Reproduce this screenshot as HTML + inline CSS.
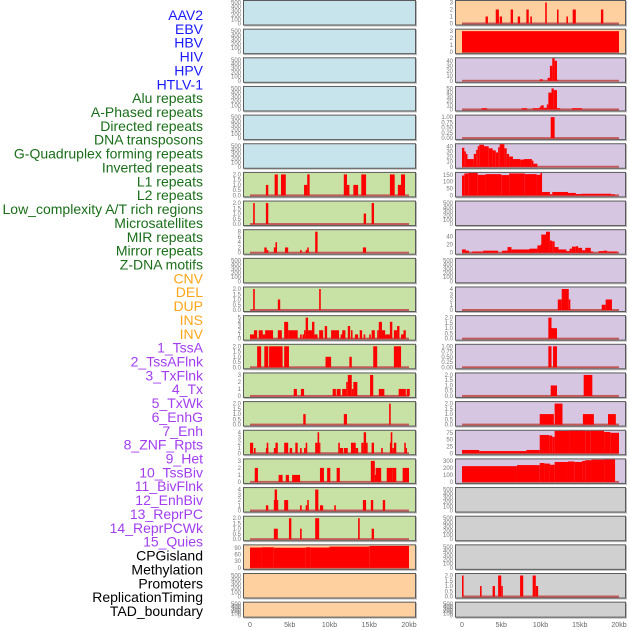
<!DOCTYPE html>
<html><head><meta charset="utf-8"><style>
html,body{margin:0;padding:0;background:#fff;}
svg{display:block;font-family:"Liberation Sans",sans-serif;}
</style></head><body>
<svg id="chart" width="630" height="630" viewBox="0 0 630 630" xmlns="http://www.w3.org/2000/svg"></svg>
<script>
const trackLabels=["AAV2","EBV","HBV","HIV","HPV","HTLV-1","Alu repeats","A-Phased repeats","Directed repeats","DNA transposons","G-Quadruplex forming repeats","Inverted repeats","L1 repeats","L2 repeats","Low_complexity A/T rich regions","Microsatellites","MIR repeats","Mirror repeats","Z-DNA motifs","CNV","DEL","DUP","INS","INV","1_TssA","2_TssAFlnk","3_TxFlnk","4_Tx","5_TxWk","6_EnhG","7_Enh","8_ZNF_Rpts","9_Het","10_TssBiv","11_BivFlnk","12_EnhBiv","13_ReprPC","14_ReprPCWk","15_Quies","CPGisland","Methylation","Promoters","ReplicationTiming","TAD_boundary"];
const labelGroups=[6,13,5,15,5];
const groupColors=["#1a1aff","#1a6e1a","#ffa51a","#a23ef0","#000000"];
const kbTicks=[0,5,10,15,20];
const kbTickLabels=["0","5kb","10kb","15kb","20kb"];
const E=[0,100,200,300,400,500];
const leftBg=["b","b","b","b","b","b","g","g","g","g","g","g","g","g","g","g","g","g","g","o","o","o"];
const rightBg=["o","o","p","p","p","p","p","p","p","p","p","p","p","p","p","p","p","y","y","y","y","y"];
const leftTicks=[E,E,E,E,E,E,[0,0.5,1,1.5,2],[0,0.5,1,1.5,2],[0,2,4,6,8],E,[0,0.5,1,1.5,2],[0,1,2,3,4,5],[0,0.5,1,1.5,2],[0,1,2,3],[0,0.5,1,1.5,2],[0,1,2,3,4],[0,1,2,3],[0,1,2,3,4],[0,0.5,1,1.5,2],[0,30,60,90],E,E];
const leftMax=[500,500,500,500,500,500,2,2,8,500,2,5,2,3,2,4,3,4,2,95,500,500];
const rightTicks=[[0,1,2,3],[0,1,2,3],[0,10,20,30,40],[0,10,20,30,40,50],[0,0.25,0.5,0.75,1],[0,10,20,30,40],[0,50,100,150],E,[0,20,40],E,[0,1,2,3,4],[0,0.5,1,1.5,2],[0,0.25,0.5,0.75,1],[0,0.5,1,1.5,2],[0,0.5,1,1.5,2],[0,25,50,75],[0,100,200,300],E,E,E,[0,0.5,1,1.5,2],E];
const rightMax=[3,3,42,50,1,41,153,500,52,500,4,2,1,2,2,77,300,500,500,500,2,500];
const tickDecimals={"0.25":2};
const leftBars=[[],[],[],[],[],[],
[[2.0,2.3,1],[3.1,3.5,2],[3.9,4.5,2],[6.8,7.2,1],[7.2,7.5,2],[11.8,12.2,2],[12.2,12.5,1],[13.0,13.6,1],[14.0,14.6,2],[17.6,18.2,2],[18.6,19.0,1],[19.0,19.5,2]],
[[0.4,0.6,2],[2.0,2.3,2],[14.3,14.6,1],[15.3,15.6,2]],
[[1.8,2.1,2],[2.1,2.3,1],[3.0,3.2,2],[3.2,3.4,4],[4.4,4.8,2],[6.3,6.5,1],[7.0,7.2,1],[7.2,7.4,2],[8.2,8.5,8],[14.2,14.6,2]],
[],
[[0.4,0.6,2],[3.5,3.8,1],[8.7,8.9,2]],
[[0,0.5,1],[0.5,0.9,2],[1.1,1.6,2],[1.6,1.9,1],[1.9,2.9,2],[3.5,4.0,2],[4.3,4.8,4],[4.8,6.0,2],[6.3,6.5,1],[6.6,6.8,1],[6.8,7.0,2],[7.0,7.3,5],[7.3,7.8,2],[7.8,8.1,4],[8.1,8.5,1],[8.7,9.2,2],[9.4,9.7,3],[10.2,11.2,2],[11.4,11.9,1],[11.6,12.0,2],[12.3,12.6,3],[12.7,12.9,2],[13.2,13.6,1],[13.8,14.1,2],[14.3,14.5,1],[15.0,15.2,1],[15.3,15.7,2],[16.0,16.2,2],[16.2,16.6,4],[16.6,17.0,2],[17.0,17.6,1],[17.6,17.9,4],[18.1,18.5,2],[18.5,18.8,3],[19.0,19.4,1],[19.3,19.6,2]],
[[0.9,1.4,2],[1.8,2.3,2],[2.4,4.1,2],[4.3,4.9,2],[9.5,10.2,1],[12.5,12.8,1],[15.5,16.0,2],[18.1,19.0,2]],
[[5.5,5.9,1],[6.4,6.8,1],[10.4,10.8,1],[10.9,11.4,1],[11.6,12.1,1],[12.1,12.3,2],[12.3,12.8,3],[12.8,13.0,1],[13.0,13.5,2],[15.1,15.5,3],[16.2,16.9,1],[18.7,19.6,1],[19.7,20.1,1]],
[[6.7,7.0,1],[11.8,12.2,1],[17.5,17.7,2]],
[[0,0.4,2],[0.5,0.7,1],[2.0,2.3,1],[2.1,2.3,2],[3.0,3.2,1],[3.2,3.5,2],[4.3,4.8,2],[5.0,5.3,1],[5.7,6.0,2],[6.3,6.5,1],[6.8,7.0,1],[7.0,7.2,2],[8.2,8.5,2],[8.5,8.7,4],[8.7,8.8,2],[11.1,11.3,2],[11.3,11.7,1],[11.8,12.3,1],[12.7,13.3,2],[13.3,13.6,1],[14.0,14.3,2],[14.3,14.6,4],[14.6,14.8,2],[15.3,15.6,2],[16.5,16.7,1],[17.6,17.7,2],[17.7,17.9,4],[17.9,18.1,1],[18.1,18.4,2],[19.4,19.6,2],[19.6,19.7,1]],
[[0.6,1.0,2],[3.6,4.1,1],[4.5,4.9,1],[5.3,6.3,1],[8.8,9.3,2],[9.7,10.1,2],[10.9,11.3,2],[15.2,15.7,3],[15.7,15.8,1],[15.8,16.5,2],[17.2,17.9,2],[17.9,18.4,2],[19.2,20.0,2]],
[[2.0,2.3,1],[3.0,3.1,2],[3.1,3.4,4],[3.4,3.5,2],[4.3,4.8,2],[6.3,6.5,1],[7.0,7.2,1],[7.2,7.4,2],[8.2,8.6,4],[8.8,9.2,1],[10.6,10.8,1],[14.2,14.6,2],[15.2,15.5,2],[16.7,17.0,2]],
[[3.0,3.5,1],[4.9,5.2,2],[6.3,6.5,1],[8.2,8.7,2],[13.6,13.8,2],[15.3,15.6,1]],
[[0,1.5,92],[1.5,3.0,93],[3.0,7.0,91],[7.0,7.6,93],[7.6,10.0,92],[10.0,15.0,96],[15.0,20.0,99]],
[],[]];
const rightBars=[
[[3.0,3.3,1],[4.3,4.7,2],[4.8,5.1,1],[6.2,6.5,2],[7.1,7.4,1],[8.2,8.5,2],[8.7,8.9,1],[10.6,10.8,3],[12.1,12.3,2],[13.3,13.5,1],[14.1,14.5,2],[17.7,18.0,2]],
[[0,20,3]],
[[9.9,10.3,3],[10.9,11.2,6],[11.2,11.5,30],[11.5,11.8,46],[11.8,12.1,40],[12.1,12.2,2]],
[[2.5,3.2,3],[7.6,8.3,3],[9.0,9.9,3],[9.9,10.1,7],[10.1,10.4,10],[10.4,10.8,4],[10.8,11.0,12],[11.0,11.4,40],[11.4,11.7,50],[11.7,12.1,46],[12.1,12.5,3],[14.0,15.3,3]],
[[11.3,11.8,1]],
[[0,0.3,37],[0.3,0.5,30],[0.5,0.7,25],[0.7,1.5,15],[1.5,1.8,25],[1.8,2.0,33],[2.0,2.2,40],[2.2,2.8,43],[2.8,3.4,40],[3.4,3.9,36],[3.9,4.3,32],[4.3,4.6,28],[4.6,4.8,38],[4.8,5.4,46],[5.4,5.7,36],[5.7,6.0,25],[6.0,6.5,20],[6.5,7.4,15],[7.4,7.9,14],[7.9,8.9,15],[8.9,9.1,12],[9.1,9.6,6]],
[[0,0.3,145],[0.3,0.8,160],[0.8,2.0,168],[2.0,3.0,150],[3.0,5.0,155],[5.0,6.0,148],[6.0,8.0,160],[8.0,9.5,155],[9.5,10.0,150],[10.0,10.2,165],[10.2,11.2,25],[11.2,11.5,8],[11.5,13.5,25],[13.5,14.5,18],[14.5,15.2,10],[15.2,19.0,12],[19.0,19.5,8]],
[],
[[0,0.5,8],[0.5,0.9,5],[1.3,2.7,3],[2.7,4.6,5],[5.1,5.8,5],[5.8,6.3,14],[6.3,7.2,8],[7.2,8.6,8],[8.6,9.6,10],[9.6,10.0,18],[10.0,10.1,20],[10.1,10.7,45],[10.7,11.2,52],[11.2,11.5,30],[11.5,11.8,28],[11.8,12.3,14],[12.3,13.3,8],[13.3,13.7,4],[13.7,14.0,10],[14.0,14.5,15],[14.5,14.8,16],[14.8,15.3,12],[15.3,15.7,6],[15.7,16.4,12],[16.4,16.7,3],[17.4,18.0,4],[18.0,18.5,5],[18.5,19.8,3]],
[],
[[12.2,12.7,2],[12.7,13.6,4],[13.6,13.8,2],[17.8,18.3,1],[18.3,19.1,2]],
[[11.0,11.4,2],[11.4,12.1,1]],
[[11.0,11.4,1],[11.6,12.1,1]],
[[11.3,12.1,1],[15.5,16.6,2]],
[[9.9,11.7,1],[11.8,12.8,2],[15.4,16.8,1],[18.6,19.6,1]],
[[0,2.2,12],[2.2,8.2,8],[8.2,9.9,12],[9.9,11.1,67],[11.1,11.5,65],[11.5,11.8,60],[11.8,13.7,82],[13.7,15.7,88],[15.7,16.4,82],[16.4,18.1,83],[18.1,18.9,78],[18.9,20.0,75]],
[[0,7.0,225],[7.0,9.9,240],[9.9,10.5,270],[10.5,11.2,262],[11.2,11.8,245],[11.8,13.5,285],[13.5,14.3,292],[14.3,15.3,285],[15.3,15.7,300],[15.7,16.5,310],[16.5,18.1,318],[18.1,19.5,322]],
[],[],[],
[[0,0.2,2],[2.3,2.5,1],[3.9,4.2,1],[4.6,5.0,2],[5.0,5.2,1],[7.4,7.8,2],[9.0,9.4,2],[9.4,9.7,1]],
[]];

const NS="http://www.w3.org/2000/svg";
const svg=document.getElementById("chart");
const bgColor={b:"#c7e3eb",g:"#c8e1a5",o:"#fecf9f",p:"#d6c6e2",y:"#d0d0d0"};
function mk(tag,attrs,parent){const e=document.createElementNS(NS,tag);for(const k in attrs)e.setAttribute(k,attrs[k]);(parent||svg).appendChild(e);return e;}
function rowTop(i){return i*28.65;}
function rowH(i){return i===21?16:25.5;}
function fmt(v,ticks){const step=ticks[1]-ticks[0];if(step===0.25)return v.toFixed(2);if(step<1)return v.toFixed(1);return String(v);}

// labels
let li=0;
labelGroups.forEach((n,g)=>{for(let k=0;k<n;k++){const t=mk("text",{x:203,y:15+li*13.86,"text-anchor":"end","dominant-baseline":"central","font-size":"14",fill:groupColors[g]});


t.textContent=trackLabels[li];li++;}});

function drawPanel(col,i,bg,ticks,ymax,bars){
  const x0=col===0?243:455, x1=col===0?416:626;
  const kx0=col===0?250:462, kx1=col===0?409:619;
  const xs=kb=>kx0+(kx1-kx0)*kb/20;
  const top=rowTop(i), h=rowH(i);
  const yb=top+h-2, yt=top+2.5;
  const ys=v=>yb-(yb-yt)*v/ymax;
  const g=mk("g",{});
  
  
  mk("rect",{x:x0+1,y:top+1,width:x1-x0,height:h,fill:"#bbb"},g);
  const r=mk("rect",{x:x0+0.5,y:top+0.5,width:x1-x0-1,height:h-1,fill:bgColor[bg],stroke:"#5a5a5a","stroke-width":1},g);
  
  
  const cid="c"+col+"_"+i;
  const cp=mk("clipPath",{id:cid},g);mk("rect",{x:x0+1,y:top+1,width:x1-x0-2,height:h-2},cp);
  const bg2=mk("g",{"clip-path":"url(#"+cid+")"},g);
  if(bars.length){
    const bl=mk("rect",{x:xs(0),y:yb-1,width:xs(20)-xs(0),height:2,fill:"#c25a5a"},bg2);
    
    
  }
  bars.forEach(b=>{
    const rb=mk("rect",{x:xs(b[0]),y:ys(b[2]),width:Math.max(1.2,xs(b[1])-xs(b[0])),height:yb-ys(b[2]),fill:"#ff0000"},bg2);
    
    
  });
  ticks.forEach(t=>{
    const tt=mk("text",{x:x0-2,y:ys(t)+2,"text-anchor":"end","font-size":"6",fill:"#777"},g);
    
    
    tt.textContent=fmt(t,ticks);
  });
  if(i===21){
    kbTicks.forEach((k,j)=>{
      const t=mk("text",{x:xs(k),y:627,"text-anchor":"middle","font-size":"7",fill:"#666"});
      
      
      t.textContent=kbTickLabels[j];
    });
  }
}
for(let i=0;i<22;i++){
  drawPanel(0,i,leftBg[i],leftTicks[i],leftMax[i],leftBars[i]);
  drawPanel(1,i,rightBg[i],rightTicks[i],rightMax[i],rightBars[i]);
}
</script>
</body></html>
